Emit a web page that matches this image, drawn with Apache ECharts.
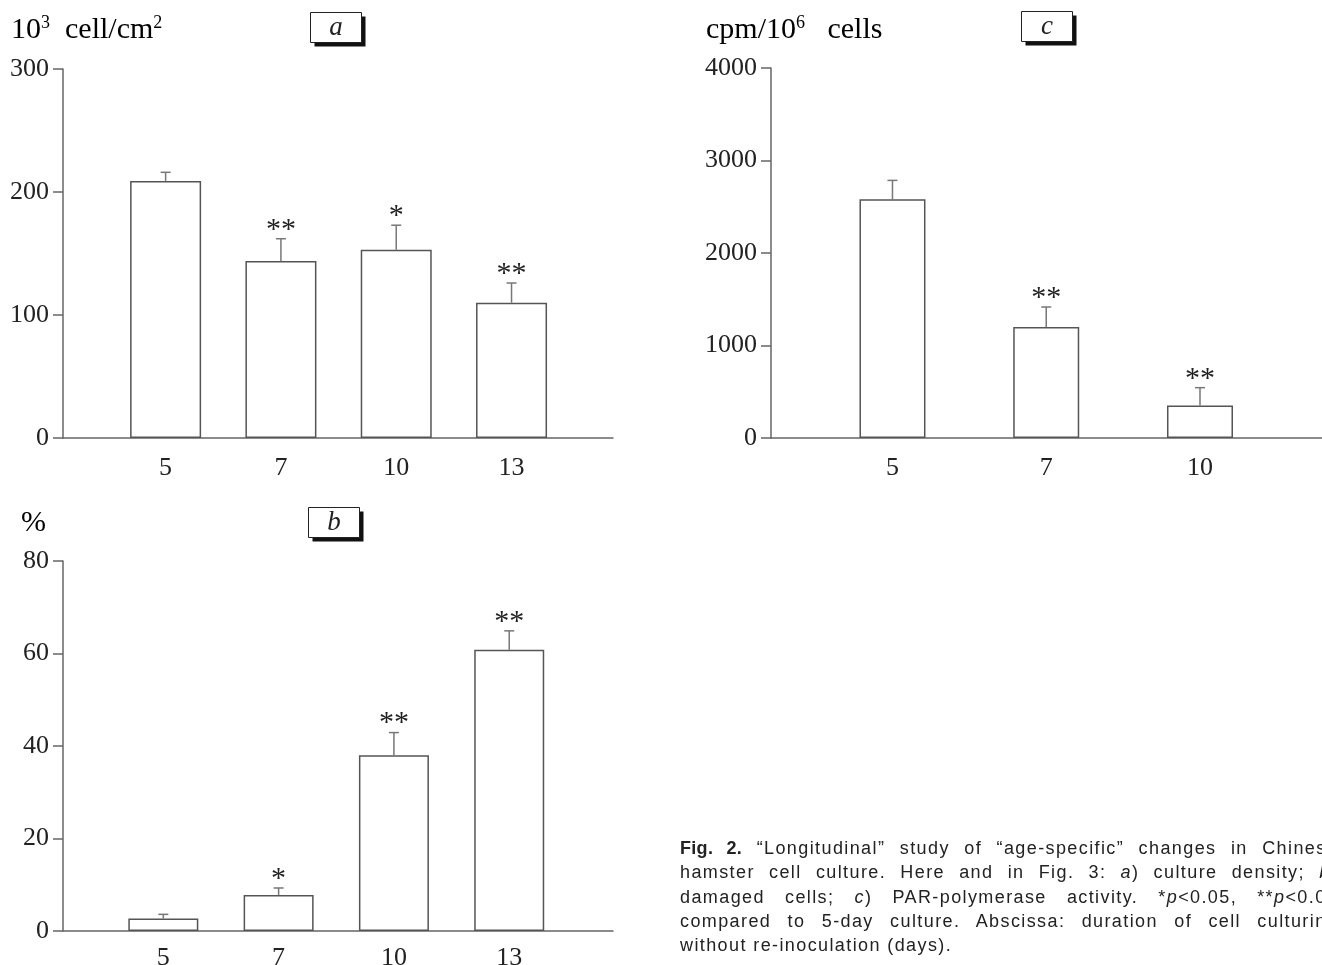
<!DOCTYPE html>
<html>
<head>
<meta charset="utf-8">
<script src="https://cdn.jsdelivr.net/npm/echarts@6/dist/echarts.min.js"></script>
<style>
  html, body { margin: 0; padding: 0; background: #fff; overflow: hidden; }
  #wrap { position: relative; width: 1322px; height: 965px; overflow: hidden; }
  #chart { width: 1322px; height: 965px; }
  #caption {
    position: absolute; left: 680px; top: 836px; width: 658px;
    font-family: "Liberation Sans", Arial, sans-serif; font-size: 18px;
    line-height: 24.3px; color: #222; letter-spacing: 1.4px; white-space: nowrap;
  }
  #caption div { text-align: justify; text-align-last: justify; }
  #caption div.last { text-align-last: left; }
  #caption b { letter-spacing: 0.3px; }
</style>
</head>
<body>
<div id="wrap">
<div id="chart"></div>
<div id="caption">
  <div><b>Fig. 2.</b> “Longitudinal” study of “age-specific” changes in Chinese</div>
  <div>hamster cell culture. Here and in Fig. 3: <i>a</i>) culture density; <i>b</i>)</div>
  <div>damaged cells; <i>c</i>) PAR-polymerase activity. *<i>p</i>&lt;0.05, **<i>p</i>&lt;0.01</div>
  <div>compared to 5-day culture. Abscissa: duration of cell culturing</div>
  <div class="last">without re-inoculation (days).</div>
</div>
</div>
<script>
// days of culturing
var daysAB = ['5', '7', '10', '13'];
var daysC = ['5', '7', '10'];

// a) culture density, 10^3 cell/cm2
var densityMean = [209, 144, 153, 110];
var densitySem = [7, 18, 20, 16];
var densitySig = ['', '**', '*', '**'];

// b) damaged cells, %
var damagedMean = [2.7, 7.8, 38, 60.8];
var damagedSem = [0.9, 1.5, 4.9, 4.1];
var damagedSig = ['', '*', '**', '**'];

// c) PAR-polymerase activity, cpm/10^6 cells
var parpMean = [2580, 1200, 352];
var parpSem = [205, 216, 192];
var parpSig = ['', '**', '**'];

var serif = '"Liberation Serif", "DejaVu Serif", serif';
var axisColor = '#666';
var barLine = '#555';

var myChart = echarts.init(document.getElementById('chart'), null, { renderer: 'canvas' });

function makeX(idx, min, max, cats, margin) {
    var vals = cats.map(function (c, i) { return i; });
    return {
        type: 'value', gridIndex: idx, min: min, max: max,
        axisLine: { show: true, onZero: false, lineStyle: { color: axisColor, width: 1.5 } },
        axisTick: { show: false },
        splitLine: { show: false },
        axisLabel: {
            customValues: vals, margin: margin,
            fontFamily: serif, fontSize: 26, color: '#222',
            formatter: function (v) { return cats[Math.round(v)]; }
        }
    };
}

function makeY(idx, max, interval) {
    return {
        type: 'value', gridIndex: idx, min: 0, max: max, interval: interval,
        axisLine: { show: true, onZero: false, lineStyle: { color: axisColor, width: 1.5 } },
        axisTick: { show: true, inside: false, length: 10, lineStyle: { color: axisColor, width: 1.5 } },
        splitLine: { show: false },
        axisLabel: {
            margin: 14, fontFamily: serif, fontSize: 26, color: '#222',
            formatter: function (v) { return String(v); }
        }
    };
}

function barSeries(idx, mean, width) {
    return {
        type: 'bar', xAxisIndex: idx, yAxisIndex: idx,
        barWidth: width, silent: true,
        itemStyle: { color: '#fff', borderColor: barLine, borderWidth: 1.5 },
        data: mean.map(function (v, i) { return [i, v]; })
    };
}

function errSeries(idx, mean, sem, sig) {
    return {
        type: 'custom', xAxisIndex: idx, yAxisIndex: idx, silent: true, z: 5,
        data: mean.map(function (v, i) { return [i, v, v + sem[i]]; }),
        renderItem: function (params, api) {
            var i = api.value(0);
            var p0 = api.coord([i, api.value(1)]);
            var p1 = api.coord([i, api.value(2)]);
            var cap = 5;
            var style = { stroke: '#777', lineWidth: 1.5 };
            return {
                type: 'group',
                children: [
                    { type: 'line', shape: { x1: p0[0], y1: p0[1], x2: p1[0], y2: p1[1] }, style: style },
                    { type: 'line', shape: { x1: p1[0] - cap, y1: p1[1], x2: p1[0] + cap, y2: p1[1] }, style: style },
                    {
                        type: 'text',
                        style: {
                            x: p1[0], y: p1[1] + 6, text: sig[params.dataIndex],
                            align: 'center', verticalAlign: 'bottom',
                            font: '30px ' + serif, fill: '#222'
                        }
                    }
                ]
            };
        }
    };
}

function panelBox(x, y, letter) {
    return {
        type: 'group', left: x, top: y,
        children: [
            { type: 'rect', shape: { x: 4, y: 4, width: 51, height: 30 }, style: { fill: '#111' } },
            { type: 'rect', shape: { x: 0, y: 0, width: 51, height: 30 }, style: { fill: '#fff', stroke: '#222', lineWidth: 1 } },
            {
                type: 'text', x: 25.5, y: 15,
                style: { text: letter, font: 'italic 27px ' + serif, fill: '#222', align: 'center', verticalAlign: 'middle' }
            }
        ]
    };
}

var unitRich = {
    n: { fontFamily: serif, fontSize: 30, color: '#222', lineHeight: 32 },
    s: { fontFamily: serif, fontSize: 18, color: '#222', lineHeight: 32, verticalAlign: 'top', padding: [0, 0, 10, 0] }
};

var option = {
    animation: false,
    backgroundColor: '#fff',
    grid: [
        { left: 63, top: 69, width: 550, height: 369, outerBoundsMode: 'none' },
        { left: 63, top: 561, width: 550, height: 370, outerBoundsMode: 'none' },
        { left: 771, top: 68, width: 552, height: 370, outerBoundsMode: 'none' }
    ],
    xAxis: [
        makeX(0, -0.89, 3.88, daysAB, 17),
        makeX(1, -0.87, 3.9, daysAB, 14),
        makeX(2, -0.79, 2.8, daysC, 17)
    ],
    yAxis: [
        makeY(0, 300, 100),
        makeY(1, 80, 20),
        makeY(2, 4000, 1000)
    ],
    series: [
        barSeries(0, densityMean, 71),
        errSeries(0, densityMean, densitySem, densitySig),
        barSeries(1, damagedMean, 70),
        errSeries(1, damagedMean, damagedSem, damagedSig),
        barSeries(2, parpMean, 66),
        errSeries(2, parpMean, parpSem, parpSig)
    ],
    graphic: [
        {
            type: 'text', left: 11, top: 14,
            style: { text: '{n|10}{s|3}{n|  cell/cm}{s|2}', rich: unitRich }
        },
        {
            type: 'text', left: 706, top: 14,
            style: { text: '{n|cpm/10}{s|6}{n|   cells}', rich: unitRich }
        },
        {
            type: 'text', left: 21, top: 508,
            style: { text: '{n|%}', rich: unitRich }
        },
        panelBox(310, 12, 'a'),
        panelBox(308, 507, 'b'),
        panelBox(1021, 11, 'c')
    ]
};

myChart.setOption(option);
</script>
</body>
</html>
